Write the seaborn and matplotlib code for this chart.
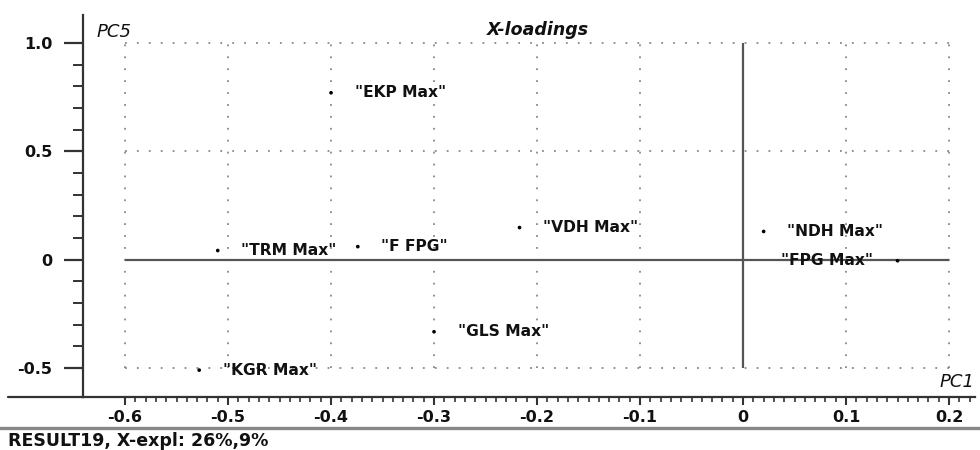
import numpy as np
import pandas as pd
import seaborn as sns
import matplotlib
matplotlib.use("Agg")
import matplotlib.pyplot as plt
from matplotlib.lines import Line2D

## loadings
labels = ['"EKP Max"', '"TRM Max"', '"F FPG"', '"KGR Max"',
          '"GLS Max"', '"VDH Max"', '"NDH Max"', '"FPG Max"']
pc1 = [-0.40, -0.51, -0.374, -0.528, -0.30, -0.217, 0.020, 0.150]
pc5 = [0.77, 0.042, 0.06, -0.51, -0.333, 0.148, 0.13, -0.005]
label_side = ['right', 'right', 'right', 'right', 'right', 'right', 'right', 'left']

x_ticks = [-0.6, -0.5, -0.4, -0.3, -0.2, -0.1, 0.0, 0.1, 0.2]
x_tick_labels = ['-0.6', '-0.5', '-0.4', '-0.3', '-0.2', '-0.1', '0', '0.1', '0.2']
y_ticks = [-0.5, 0.0, 0.5, 1.0]
y_tick_labels = ['-0.5', '0', '0.5', '1.0']

df = pd.DataFrame({'PC1': pc1, 'PC5': pc5, 'label': labels, 'side': label_side})

sns.set_style('white')
plt.rcParams['font.family'] = ['DejaVu Sans']

fig = plt.figure(figsize=(9.8, 4.5), dpi=100)
ax = fig.add_axes([83 / 980, 1 - 397 / 450, (975 - 83) / 980, (397 - 15) / 450])

## dotted grid, limited to the tick range
grid_style = dict(color='#888888', lw=1.3, linestyle=(0, (1, 5.6)), zorder=1)
for xv in x_ticks:
    if xv != 0:
        ax.vlines(xv, y_ticks[0], y_ticks[-1], **grid_style)
for yv in y_ticks:
    if yv != 0:
        ax.hlines(yv, x_ticks[0], x_ticks[-1], **grid_style)

## zero lines
ax.hlines(0, x_ticks[0], x_ticks[-1], color='#555555', lw=1.6, zorder=2)
ax.vlines(0, y_ticks[0], y_ticks[-1], color='#555555', lw=1.6, zorder=2)

sns.scatterplot(data=df, x='PC1', y='PC5', ax=ax, color='black', s=7,
                edgecolor='none', zorder=3, legend=False)

for _, row in df.iterrows():
    if row['side'] == 'right':
        off, ha = 17, 'left'
    else:
        off, ha = -18, 'right'
    ax.annotate(row['label'], (row['PC1'], row['PC5']),
                xytext=(off, 0), textcoords='offset points',
                ha=ha, va='center', fontsize=11.2, fontweight='bold',
                color='#111111', zorder=4)

ax.set_xlim(-0.6408, 0.2252)
ax.set_ylim(-0.634, 1.129)

ax.set_xticks(x_ticks)
ax.set_xticklabels(x_tick_labels)
ax.set_xticks(np.arange(-60, 23) / 100, minor=True)
ax.set_yticks(y_ticks)
ax.set_yticklabels(y_tick_labels)
ax.set_yticks(np.arange(-5, 11) / 10, minor=True)

ax.tick_params(axis='x', which='major', direction='out', length=6, width=1.5,
               color='#333333', labelsize=11.5, pad=3, bottom=True)
ax.tick_params(axis='x', which='minor', direction='out', length=3.5, width=1.2,
               color='#333333', bottom=True)
ax.tick_params(axis='y', which='major', direction='out', length=14, width=1.6,
               color='#333333', labelsize=11.5, pad=8, left=True)
ax.tick_params(axis='y', which='minor', direction='out', length=7, width=1.4,
               color='#333333', left=True)
for t in ax.get_xticklabels() + ax.get_yticklabels():
    t.set_fontweight('bold')
    t.set_color('#111111')

sns.despine(ax=ax, top=True, right=True)
for s in ['left', 'bottom']:
    ax.spines[s].set_color('#333333')
    ax.spines[s].set_linewidth(1.6)
ax.set_xlabel('')
ax.set_ylabel('')

## bottom axis line extended to the left edge
fig.add_artist(Line2D([8 / 980, 84 / 980], [1 - 397 / 450, 1 - 397 / 450],
                      transform=fig.transFigure, color='#333333', lw=1.6))
## gray separator and status text
fig.add_artist(Line2D([0, 1], [1 - 428 / 450, 1 - 428 / 450],
                      transform=fig.transFigure, color='#888888', lw=2.4))
fig.text(8 / 980, 1 - 441 / 450, 'RESULT19, X-expl: 26%,9%', fontsize=12.5,
         fontweight='bold', color='#111111', ha='left', va='center')

fig.text(97 / 980, 1 - 32 / 450, 'PC5', fontsize=13, fontstyle='italic',
         color='#111111', ha='left', va='center')
fig.text(487 / 980, 1 - 30 / 450, 'X-loadings', fontsize=12.5, fontstyle='italic',
         fontweight='bold', color='#111111', ha='left', va='center')
fig.text(975 / 980, 1 - 382 / 450, 'PC1', fontsize=13, fontstyle='italic',
         color='#111111', ha='right', va='center')

fig.savefig('out.png', dpi=100)
